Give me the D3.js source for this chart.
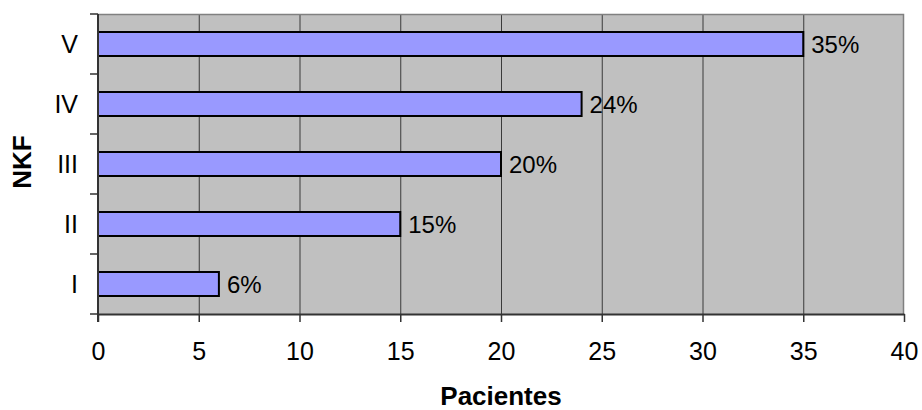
<!DOCTYPE html>
<html>
<head>
<meta charset="utf-8">
<script src="https://cdn.jsdelivr.net/npm/d3@7"></script>
<style>
  html, body { margin: 0; padding: 0; background: #fff; }
  svg { display: block; font-family: "Liberation Sans", Arial, sans-serif; }
</style>
</head>
<body>
<svg id="chart" width="922" height="410"></svg>
<script>
// NKF stages and number of patients in each
const categories = ["I", "II", "III", "IV", "V"];
const patients = [6, 15, 20, 24, 35];
const percentLabels = ["6%", "15%", "20%", "24%", "35%"];
const xTicks = [0, 5, 10, 15, 20, 25, 30, 35, 40];
const xTitle = "Pacientes";
const yTitle = "NKF";

const svg = d3.select("#chart");
const plot = { left: 98, top: 14, right: 904, bottom: 314 };

const x = d3.scaleLinear().domain([0, 40]).range([plot.left, plot.right]);
const y = d3.scaleBand().domain(categories.slice().reverse())
  .range([plot.top, plot.bottom]).paddingInner(0.6).paddingOuter(0.3);
const yBand = d3.scaleBand().domain(categories.slice().reverse())
  .range([plot.top, plot.bottom]);

// plot area background
svg.append("rect")
  .attr("x", plot.left).attr("y", plot.top)
  .attr("width", plot.right - plot.left).attr("height", plot.bottom - plot.top)
  .attr("fill", "#c0c0c0");

// vertical gridlines
svg.append("g").selectAll("line")
  .data(xTicks.filter(d => d > 0 && d < 40))
  .join("line")
  .attr("x1", d => x(d) + 0.5).attr("x2", d => x(d) + 0.5)
  .attr("y1", plot.top).attr("y2", plot.bottom)
  .attr("stroke", "#3a3a3a").attr("stroke-width", 1);

// plot border (top and right)
svg.append("path")
  .attr("d", `M${plot.left},${plot.top + 0.5}H${plot.right - 0.5}V${plot.bottom}`)
  .attr("fill", "none").attr("stroke", "#808080").attr("stroke-width", 1.5);

// bars
const rows = categories.map((c, i) => ({ c, v: patients[i], label: percentLabels[i] }));
svg.append("g").selectAll("rect")
  .data(rows)
  .join("rect")
  .attr("x", x(0))
  .attr("y", d => y(d.c))
  .attr("width", d => x(d.v) - x(0))
  .attr("height", y.bandwidth())
  .attr("fill", "#9999ff")
  .attr("stroke", "#000")
  .attr("stroke-width", 2);

// value labels
svg.append("g").selectAll("text")
  .data(rows)
  .join("text")
  .attr("x", d => x(d.v) + 8)
  .attr("y", d => y(d.c) + y.bandwidth() / 2)
  .attr("dy", "0.36em")
  .attr("font-size", 24)
  .attr("fill", "#000")
  .text(d => d.label);

// x axis
const xAxis = svg.append("g")
  .attr("transform", `translate(0,${plot.bottom})`)
  .call(d3.axisBottom(x).tickValues(xTicks).tickSize(8).tickPadding(20).tickSizeOuter(0));
xAxis.select(".domain").attr("stroke", "#333").attr("stroke-width", 2);
xAxis.selectAll(".tick line").attr("stroke", "#333").attr("stroke-width", 1.5);
xAxis.selectAll(".tick text").attr("font-size", 25).attr("fill", "#000")
  .attr("font-family", "Liberation Sans, Arial, sans-serif");

// y axis: ticks at band boundaries, labels centred in bands
const yAxisG = svg.append("g").attr("transform", `translate(${plot.left},0)`);
yAxisG.append("line")
  .attr("x1", 0).attr("x2", 0).attr("y1", plot.top).attr("y2", plot.bottom + 8)
  .attr("stroke", "#333").attr("stroke-width", 2);
const boundaries = categories.map(c => yBand(c)).concat([plot.bottom]);
yAxisG.selectAll("line.tk")
  .data(boundaries)
  .join("line").attr("class", "tk")
  .attr("x1", -8).attr("x2", 0)
  .attr("y1", d => d).attr("y2", d => d)
  .attr("stroke", "#333").attr("stroke-width", 1.5);
yAxisG.selectAll("text")
  .data(categories)
  .join("text")
  .attr("x", -20)
  .attr("y", d => yBand(d) + yBand.bandwidth() / 2)
  .attr("dy", "0.36em")
  .attr("text-anchor", "end")
  .attr("font-size", 25)
  .text(d => d);

// axis titles
svg.append("text")
  .attr("x", (plot.left + plot.right) / 2).attr("y", 405)
  .attr("text-anchor", "middle")
  .attr("font-size", 26).attr("font-weight", "bold")
  .text(xTitle);

svg.append("text")
  .attr("transform", `translate(31,162) rotate(-90)`)
  .attr("text-anchor", "middle")
  .attr("font-size", 26).attr("font-weight", "bold")
  .text(yTitle);
</script>
</body>
</html>
